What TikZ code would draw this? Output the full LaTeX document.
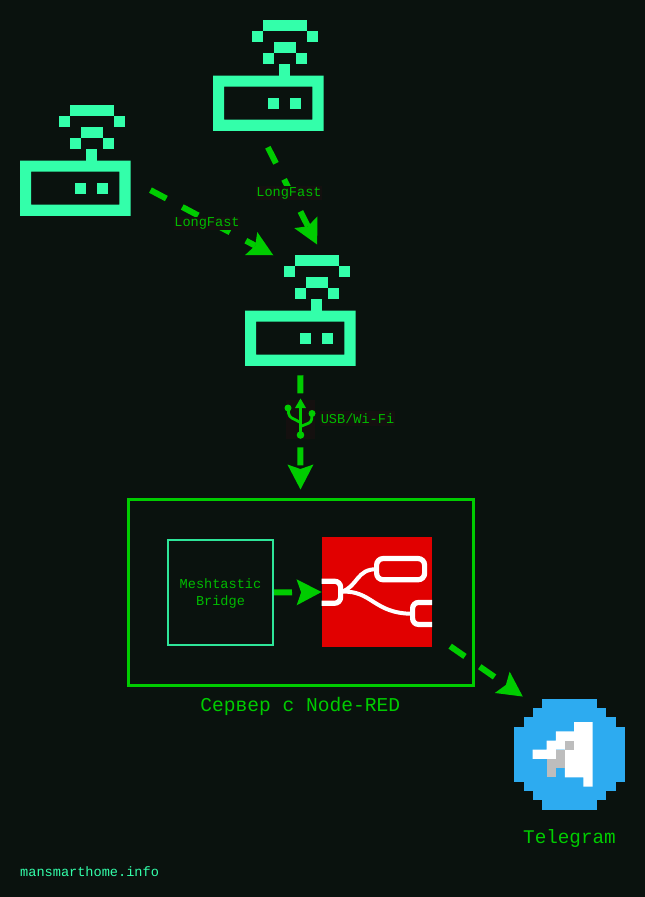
\documentclass[tikz,border=0pt]{standalone}
\usepackage{fontspec}
\setmonofont{Liberation Mono}
\usetikzlibrary{arrows.meta, calc}

\definecolor{bgc}{HTML}{0A120E}
\definecolor{labelbg}{HTML}{14100F}
\definecolor{mintc}{HTML}{33FFAA}
\definecolor{greenc}{HTML}{00CC00}
\definecolor{textc}{HTML}{00BB00}
\definecolor{redc}{HTML}{E10000}
\definecolor{tgblue}{HTML}{2DABF0}
\definecolor{tggrey}{HTML}{BDBDBD}

\tikzset{
	iconnode/.style={minimum size=110.5pt, inner sep=0pt, outer sep=0pt},
	link/.style={draw=greenc, line width=6pt, dash pattern=on 18pt off 18pt,
		-{Stealth[length=25pt,width=26pt,inset=4.5pt,line width=0pt]}},
	linklabel/.style={fill=labelbg, text=textc, inner sep=0pt, outer sep=0pt,
		font=\ttfamily\fontsize{13.6}{17}\selectfont},
	wifirouter/.pic={
		\fill[mintc, even odd rule] (0,55.25) rectangle (110.5,110.5) (11.05,66.3) rectangle (99.45,99.45);
		\foreach \cx/\cy/\cw in {4.5/0/4, 3.5/1/1, 8.5/1/1, 5.5/2/2, 4.5/3/1, 7.5/3/1, 6/4/1, 5/7/1, 7/7/1}
			\fill[mintc] (\cx*11.05,\cy*11.05) rectangle ++(\cw*11.05,11.05);
	}
}

\begin{document}
\begin{tikzpicture}[x=1pt,y=-1pt]

	\useasboundingbox (0,0) rectangle (645,897);
	\fill[bgc] (0,0) rectangle (645,897);

	% routers
	\node[iconnode] (r1) at (75.25,160.5) {};
	\node[iconnode] (r2) at (268.25,75.5) {};
	\node[iconnode] (r3) at (300.25,310.5) {};
	\pic at (r1.north west) {wifirouter};
	\pic at (r2.north west) {wifirouter};
	\pic at (r3.north west) {wifirouter};

	% server
	\node[draw=greenc, line width=3pt, minimum width=345pt, minimum height=186pt, inner sep=0pt, outer sep=0pt] (server) at (300.5,592.5) {};
	\node[font=\ttfamily\fontsize{19.6}{22}\selectfont, text=greenc, inner sep=0pt] (serverlabel) at (300.25,706) {Сервер с Node-RED};

	\node[draw=mintc!90!black, line width=2.5pt, minimum size=105pt, inner sep=0pt, outer sep=0pt, align=center, text=textc, font=\ttfamily\fontsize{13.6}{17}\selectfont, text depth=-4pt] (bridge) at (220.5,592.5) {Meshtastic\\Bridge};

	% node-red
	\node[iconnode, fill=redc] (nodered) at (376.85,592) {};
	\begin{scope}[shift={(nodered.north west)}, white, line width=5.2pt]
		\draw (0,44.5) -- (13,44.5) arc[start angle=-90, end angle=0, radius=6] -- (19,60.5) arc[start angle=0, end angle=90, radius=6] -- (0,66.5);
		\draw[rounded corners=6.5pt] (55,21.8) rectangle (103,43);
		\draw (110.5,65.7) -- (97,65.7) arc[start angle=-90, end angle=-180, radius=6] -- (91,81.7) arc[start angle=180, end angle=90, radius=6] -- (110.5,87.7);
		\draw[line width=4pt] (20,55) .. controls (36,50) and (35,32) .. (55,32.5);
		\draw[line width=4pt] (20,55) .. controls (50,53) and (52,77) .. (91,77);
	\end{scope}

	% telegram
	\node[iconnode] (tg) at (569.55,754.3) {};
	\begin{scope}[shift={(tg.north west)}]
		\foreach \rw/\cs/\cw in {0/3/6, 1/2/8, 2/1/10, 3/0/12, 9/1/10, 10/2/8, 11/3/6}
			\fill[tgblue] (\cs*9.21,\rw*9.21) rectangle ++(\cw*9.21,9.21);
		\fill[tgblue] (0,3*9.21) rectangle (110.5,9*9.21);
		\fill[white, x=9.21pt, y=-9.21pt] (6.5,2.5) -- (8.5,2.5) -- (8.5,9.5) -- (7.5,9.5) -- (7.5,8.5) -- (5.5,8.5) -- (5.5,5.5) -- (4.5,5.5) -- (4.5,6.5) -- (2,6.5) -- (2,5.5) -- (3.5,5.5) -- (3.5,4.5) -- (4.5,4.5) -- (4.5,3.5) -- (6.5,3.5) -- cycle;
		\foreach \cs/\rw/\rh in {5.5/4.5/1, 4.5/5.5/2, 3.5/6.5/2}
			\fill[tggrey] (\cs*9.21,\rw*9.21) rectangle ++(9.21,\rh*9.21);
	\end{scope}
	\node[font=\ttfamily\fontsize{19.3}{22}\selectfont, text=greenc, inner sep=0pt] (tglabel) at (569.5,838) {Telegram};

	% links
	\draw[link, shorten <=22.6pt] (r1.-19.5) -- (r3.116);
	\draw[link, shorten <=18.5pt, shorten >=12pt] (r2.-99) -- (r3.68.8);
	\draw[link, shorten <=9.5pt, shorten >=10pt] (r3.south) -- (server.north);
	\draw[link, shorten <=1pt] (bridge.east) -- (nodered.west);
	\draw[link, shorten <=22pt, shorten >=4.4pt] (nodered.-37.3) -- (tg.128.1);

	% link labels
	\node[linklabel, minimum width=66pt, minimum height=13.5pt] (lf1) at (207,223.3) {LongFast};
	\node[linklabel, minimum width=66pt, minimum height=14pt] (lf2) at (289,193.3) {LongFast};
	\node[linklabel, minimum width=29pt, minimum height=39pt] (usbsym) at (300.5,419.5) {};
	\node[linklabel, minimum width=75pt, minimum height=15pt] (usblabel) at (357.5,418.5) {USB/Wi-Fi};

	% usb symbol
	\begin{scope}[shift={(usbsym.center)}, greenc, line width=2.8pt]
		\draw (0,12) -- (0,-12);
		\fill (0,-21) -- (5.5,-11.5) -- (-5.5,-11.5) -- cycle;
		\fill (0,15.5) circle[radius=3.8];
		\fill (-12.5,-11.5) circle[radius=3.5];
		\fill (11.5,-6) circle[radius=3.5];
		\draw[rounded corners=3pt] (-12.5,-11.5) -- (-11.5,-3) -- (0,3);
		\draw[rounded corners=3pt] (11.5,-6) -- (11,2.5) -- (0,7);
	\end{scope}

	\node[anchor=west, text=mintc, inner sep=0pt, font=\ttfamily\fontsize{13.6}{17}\selectfont] (site) at (20,872) {mansmarthome.info};

\end{tikzpicture}
\end{document}
